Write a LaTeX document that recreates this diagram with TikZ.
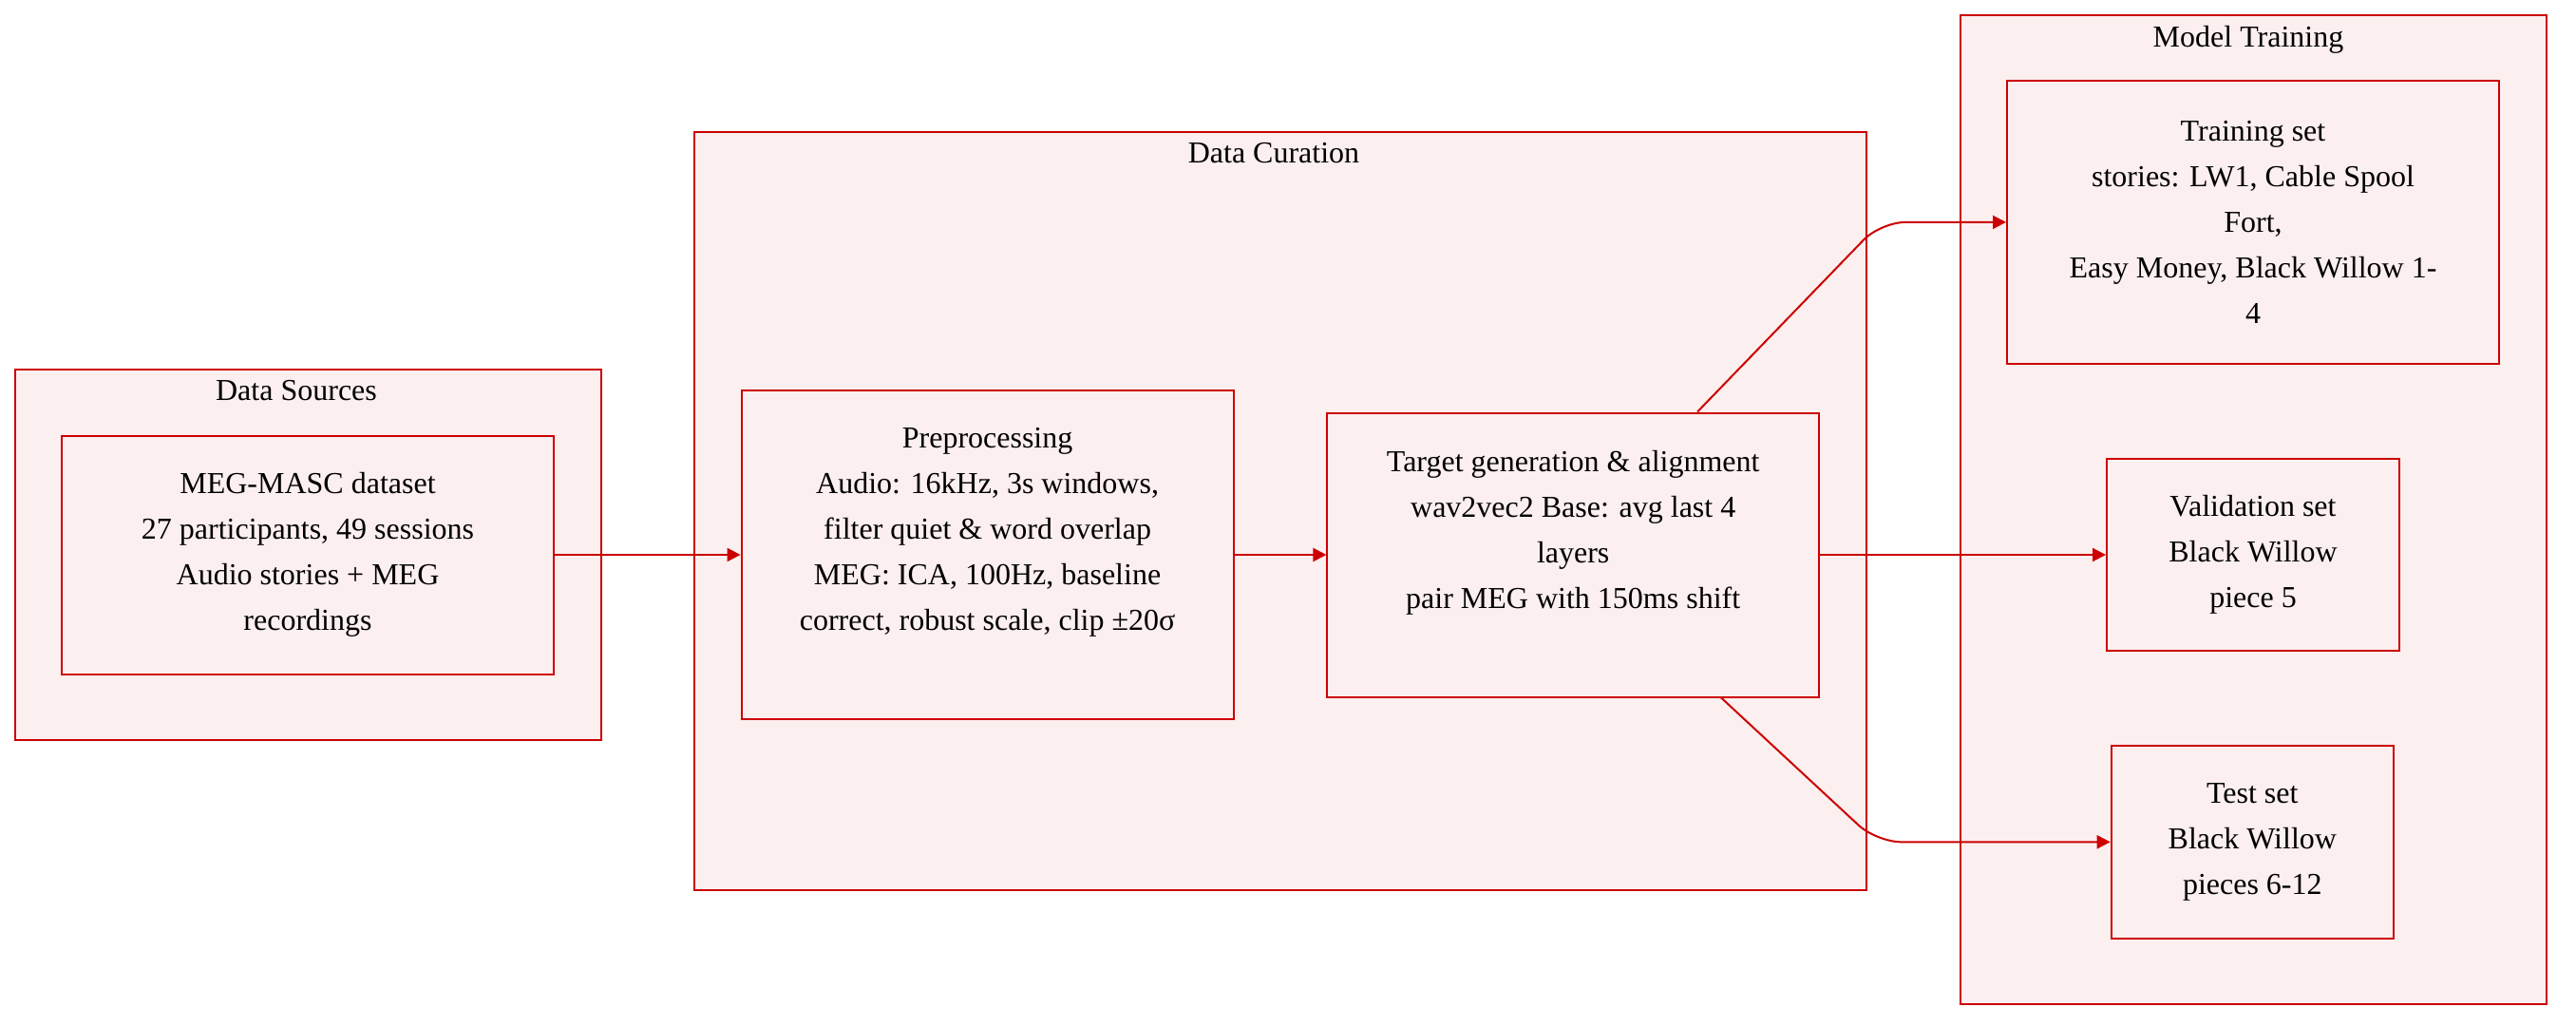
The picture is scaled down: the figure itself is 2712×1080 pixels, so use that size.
\documentclass[tikz,border=0pt]{standalone}
\usepackage{fontspec}
\setmainfont{Liberation Serif}
\usetikzlibrary{arrows.meta,positioning}
\definecolor{crimson}{RGB}{204,0,0}
\definecolor{blush}{RGB}{252,239,239}
\begin{document}
\begin{tikzpicture}[->, >={Triangle[length=7pt,width=7pt]}, x=0.5pt, y=-0.5pt]
        \tikzset{
            group/.style = {draw=crimson, fill=blush, line width=1pt, inner sep=0pt},
            block/.style = {draw=crimson, fill=blush, line width=1pt, inner sep=0pt,
                            align=center, font=\fontsize{16pt}{24pt}\selectfont},
            title/.style = {inner sep=0pt, font=\fontsize{16pt}{24pt}\selectfont},
            link/.style  = {->, draw=crimson, fill=none, line width=1pt}
        }
        \useasboundingbox (0,0) rectangle (2712,1080);
        % subgraphs
        \node[group, minimum width=308.5pt, minimum height=195pt] (DS) at (324,584) {};
        \node[group, minimum width=616.7pt, minimum height=399.3pt] (DC) at (1348,538) {};
        \node[group, minimum width=308.5pt, minimum height=520.7pt] (MT) at (2372,536.3) {};
        \node[title, below=6pt of DS.north, xshift=-6pt] (DST) {Data Sources};
        \node[title, below=6pt of DC.north, xshift=-3.5pt] (DCT) {Data Curation};
        \node[title, below=6pt of MT.north, xshift=-2.5pt] (MTT) {Model Training};

        \node[block, minimum width=259pt, minimum height=125.5pt] (SRC) at (324,584)
            {MEG-MASC dataset\\27 participants, 49 sessions\\Audio stories + MEG\\recordings};
        \node[block, minimum width=259pt, minimum height=173pt] (PRE) at (1039.6,584)
            {Preprocessing\\Audio: 16kHz, 3s windows,\\filter quiet \& word overlap\\MEG: ICA, 100Hz, baseline\\correct, robust scale, clip ±20σ\\ \rule[-3pt]{0pt}{3pt}};
        \node[block, minimum width=258.75pt, minimum height=149.5pt] (TGT) at (1656.2,584)
            {Target generation \& alignment\\wav2vec2 Base: avg last 4\\layers\\pair MEG with 150ms shift\\ \rule[-3pt]{0pt}{3pt}};
        \node[block, minimum width=259pt, minimum height=149pt] (TRAIN) at (2372,233.9)
            {Training set\\stories: LW1, Cable Spool\\Fort,\\Easy Money, Black Willow 1-\\4};
        \node[block, minimum width=154pt, minimum height=101pt] (VAL) at (2372,584)
            {Validation set\\Black Willow\\piece 5};
        \node[block, minimum width=148.6pt, minimum height=101.3pt] (TEST) at (2371.3,886.3)
            {Test set\\Black Willow\\pieces 6-12};

        \draw[link] (SRC) to (PRE);
        \draw[link] (PRE) to (TGT);
        \draw[link] (TGT) to (VAL);
        \draw[link, rounded corners=13pt] (TGT.49) -- ([xshift=-66pt]TRAIN.west) -- (TRAIN.west);
        \draw[link, rounded corners=13pt] (TGT.-44) -- ([xshift=-123pt]TEST.west) -- (TEST.west);
    \end{tikzpicture}
\end{document}
